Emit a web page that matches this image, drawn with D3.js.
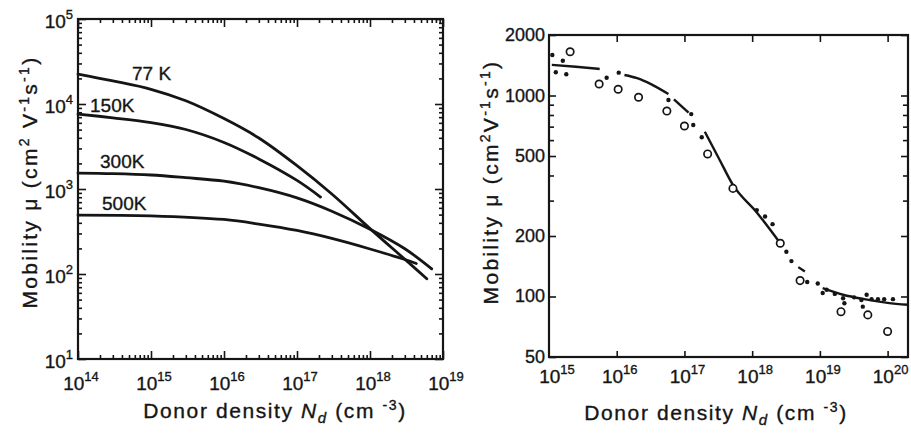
<!DOCTYPE html>
<html>
<head>
<meta charset="utf-8">
<script src="https://cdn.jsdelivr.net/npm/d3@7"></script>
<style>
  body { margin: 0; background: #fff; }
  svg text { font-family: "Liberation Sans", Arial, sans-serif; fill: #151515; stroke: #151515; stroke-width: 0.35; }
</style>
</head>
<body>
<svg id="chart" width="911" height="444"></svg>
<script>
// ---------- data: electron mobility vs donor density ----------
// left panel: one curve per lattice temperature, [Nd (cm^-3), mobility (cm^2/Vs)]
const curveLabels = ["77 K", "150K", "300K", "500K"];
const mu77K = [[1e14, 22500], [3e14, 18700], [1e15, 14900], [3e15, 10900], [1e16, 6730],
               [3e16, 3980], [1e17, 1880], [3e17, 873], [1e18, 342], [3e18, 149], [6e18, 88]];
const mu150K = [[1e14, 7620], [3e14, 6880], [1e15, 6050], [3e15, 5010], [1e16, 3530],
                [3e16, 2260], [1e17, 1262], [2.1e17, 805]];
const mu300K = [[1e14, 1540], [3e14, 1518], [1e15, 1462], [3e15, 1359], [1e16, 1236],
                [3e16, 1035], [1e17, 785], [3e17, 547], [1e18, 336], [3e18, 198], [7e18, 115]];
const mu500K = [[1e14, 494], [1e15, 484], [1e16, 438], [3e16, 387], [1e17, 325],
                [3e17, 262], [1e18, 197], [3e18, 148], [4.3e18, 133]];
const leftXExponents = [14, 15, 16, 17, 18, 19];
const leftYExponents = [1, 2, 3, 4, 5];

// right panel: 300 K data (filled / open symbols) and the fitted curve, drawn in pieces
const fitSegments = [
  [[1.1e15, 1420], [2.5e15, 1390], [5.6e15, 1355]],
  [[1.3e16, 1265], [2e16, 1220], [3.2e16, 1140], [5.8e16, 1017]],
  [[7e16, 957], [1.15e17, 821]],
  [[2e17, 660], [3.2e17, 489], [5.2e17, 359], [1.17e18, 262], [2.6e18, 184]],
  [[4.8e18, 140], [6e18, 133]],
  [[1.1e19, 110], [2.2e19, 102], [4.5e19, 97], [1e20, 93], [2e20, 91]]
];
const filledPoints = [[1.12e15, 1591], [1.6e15, 1490], [1.26e15, 1305], [1.8e15, 1275], [7.1e15, 1226],
  [1.07e16, 1299], [5.8e16, 950], [1.26e17, 808], [1.35e17, 713], [1.8e17, 620], [1.17e18, 269],
  [1.55e18, 250], [2e18, 229], [3.2e18, 167], [3.8e18, 150], [6.5e18, 118], [9.3e18, 116],
  [1.1e19, 104], [1.26e19, 108], [1.66e19, 103], [2.2e19, 98], [2.3e19, 92.6], [3.2e19, 99],
  [4.1e19, 96], [4.3e19, 89], [4.9e19, 102], [5.8e19, 97], [7.2e19, 97], [8.9e19, 97], [1.2e20, 97]];
const openPoints = [[2.05e15, 1651], [5.5e15, 1141], [1.05e16, 1074], [2.1e16, 980], [5.5e16, 837],
  [1e17, 705], [2.2e17, 512], [5.2e17, 345], [2.6e18, 184], [5.1e18, 120], [2.05e19, 84],
  [5.1e19, 81], [1e20, 67]];
const rightXExponents = [15, 16, 17, 18, 19, 20];
const rightYLabels = [50, 100, 200, 500, 1000, 2000];
const rightYMinor = [300, 400, 600, 700, 800, 900];

// ---------- layout ----------
const svg = d3.select("#chart");
const ink = "#151515";

const xL = d3.scaleLog().domain([1e14, 1e19]).range([78, 443]);
const yL = d3.scaleLog().domain([1e1, 1e5]).range([359, 19]);
const xR = d3.scaleLog().domain([1e15, 2e20]).range([549, 908]);
const yR = d3.scaleLog().domain([50, 2000]).range([357, 35]);

function isDecade(v) { return Math.abs(Math.log10(v) - Math.round(Math.log10(v))) < 1e-6; }

// inward tick marks on all four sides, drawn with d3 axes
function tickSide(g, axisFn, scale, values, size, transform) {
  g.append("g")
    .attr("transform", transform)
    .call(axisFn(scale).tickValues(values).tickSize(-size).tickFormat(""))
    .call(s => s.select(".domain").remove())
    .call(s => s.selectAll("line").attr("stroke", ink).attr("stroke-width", 1.6));
}

function frame(g, x, y) {
  const [a, b] = x.range(), [c, d] = y.range();
  g.append("rect")
    .attr("x", a).attr("y", d).attr("width", b - a).attr("height", c - d)
    .attr("fill", "none").attr("stroke", ink).attr("stroke-width", 2.2);
}

function powerLabel(sel, exp, supSize, rise) {
  sel.append("tspan").text("10");
  sel.append("tspan").attr("dy", -rise).attr("font-size", supSize).text(exp);
}

function mobilityTitle(g, tx, ty, gap) {
  const t = g.append("text").attr("text-anchor", "middle").attr("font-size", 21)
    .attr("letter-spacing", 2.3).attr("transform", `translate(${tx},${ty}) rotate(-90)`);
  t.append("tspan").text("Mobility  \u03bc  (cm");
  t.append("tspan").attr("dy", -8).attr("font-size", 14).text("2");
  t.append("tspan").attr("dy", 8).text(gap + "V");
  t.append("tspan").attr("dy", -8).attr("font-size", 14).text("-1");
  t.append("tspan").attr("dy", 8).text("s");
  t.append("tspan").attr("dy", -8).attr("font-size", 14).text("-1");
  t.append("tspan").attr("dy", 8).text(")");
}

function densityTitle(g, cx, by) {
  const t = g.append("text").attr("text-anchor", "middle").attr("font-size", 21)
    .attr("letter-spacing", 1.6).attr("x", cx).attr("y", by);
  t.append("tspan").text("Donor density  ");
  t.append("tspan").attr("font-style", "italic").text("N");
  t.append("tspan").attr("dy", 5).attr("font-size", 15).attr("font-style", "italic").text("d");
  t.append("tspan").attr("dy", -5).text(" (cm ");
  t.append("tspan").attr("dy", -8).attr("font-size", 14).text("-3");
  t.append("tspan").attr("dy", 8).text(")");
}

// ---------- left panel ----------
const gl = svg.append("g");
{
  const xt = xL.ticks(), yt = yL.ticks();
  const xMaj = xt.filter(isDecade), xMin = xt.filter(v => !isDecade(v));
  const yMaj = yt.filter(isDecade), yMin = yt.filter(v => !isDecade(v));
  tickSide(gl, d3.axisBottom, xL, xMin, 4, "translate(0,359)");
  tickSide(gl, d3.axisBottom, xL, xMaj, 8, "translate(0,359)");
  tickSide(gl, d3.axisTop, xL, xMin, 4, "translate(0,19)");
  tickSide(gl, d3.axisTop, xL, xMaj, 8, "translate(0,19)");
  tickSide(gl, d3.axisLeft, yL, yMin, 4, "translate(78,0)");
  tickSide(gl, d3.axisLeft, yL, yMaj, 8, "translate(78,0)");
  tickSide(gl, d3.axisRight, yL, yMin, 4, "translate(443,0)");
  tickSide(gl, d3.axisRight, yL, yMaj, 8, "translate(443,0)");
  frame(gl, xL, yL);

  const line = d3.line().x(d => xL(d[0])).y(d => yL(d[1])).curve(d3.curveCatmullRom.alpha(0.5));
  gl.selectAll("path.curve").data([mu77K, mu150K, mu300K, mu500K]).join("path")
    .attr("class", "curve").attr("d", line)
    .attr("fill", "none").attr("stroke", ink).attr("stroke-width", 2.8).attr("stroke-linecap", "round");

  // temperature labels, placed just above the start of each curve
  const labelPos = [[132, 80], [90, 112], [100, 168], [102, 210]];
  gl.selectAll("text.temp").data(curveLabels).join("text")
    .attr("class", "temp")
    .attr("x", (d, i) => labelPos[i][0]).attr("y", (d, i) => labelPos[i][1])
    .attr("font-size", 19).text(d => d);

  gl.selectAll("text.xlab").data(leftXExponents).join("text")
    .attr("class", "xlab").attr("text-anchor", "middle")
    .attr("x", e => xL(10 ** e) + 3).attr("y", 390).attr("font-size", 19)
    .each(function (e) { powerLabel(d3.select(this), e, 13, 9); });

  gl.selectAll("text.ylab").data(leftYExponents).join("text")
    .attr("class", "ylab").attr("text-anchor", "end")
    .attr("x", 73).attr("y", e => yL(10 ** e) + 9).attr("font-size", 19)
    .each(function (e) { powerLabel(d3.select(this), e, 13, 9); });

  mobilityTitle(gl, 37, 182, " ");
  densityTitle(gl, 275, 418);
}

// ---------- right panel ----------
const gr = svg.append("g");
{
  const xMaj = rightXExponents.slice(1).map(e => 10 ** e);
  tickSide(gr, d3.axisBottom, xR, xMaj, 6, "translate(0,357)");
  tickSide(gr, d3.axisTop, xR, xMaj, 7, "translate(0,35)");
  tickSide(gr, d3.axisLeft, yR, rightYLabels, 7, "translate(549,0)");
  tickSide(gr, d3.axisLeft, yR, rightYMinor, 5, "translate(549,0)");
  tickSide(gr, d3.axisRight, yR, rightYLabels, 7, "translate(908,0)");
  tickSide(gr, d3.axisRight, yR, rightYMinor, 5, "translate(908,0)");
  frame(gr, xR, yR);

  const line = d3.line().x(d => xR(d[0])).y(d => yR(d[1])).curve(d3.curveMonotoneX);
  gr.selectAll("path.fit").data(fitSegments).join("path")
    .attr("class", "fit").attr("d", line)
    .attr("fill", "none").attr("stroke", ink).attr("stroke-width", 2.4);

  gr.selectAll("circle.open").data(openPoints).join("circle")
    .attr("class", "open").attr("cx", d => xR(d[0])).attr("cy", d => yR(d[1])).attr("r", 3.7)
    .attr("fill", "#fff").attr("stroke", ink).attr("stroke-width", 1.7);
  gr.selectAll("circle.filled").data(filledPoints).join("circle")
    .attr("class", "filled").attr("cx", d => xR(d[0])).attr("cy", d => yR(d[1])).attr("r", 2.2)
    .attr("fill", ink);

  gr.selectAll("text.xlab").data(rightXExponents).join("text")
    .attr("class", "xlab").attr("text-anchor", "middle")
    .attr("x", e => xR(10 ** e) + (e === 15 ? 8 : 3)).attr("y", 383).attr("font-size", 19)
    .each(function (e) { powerLabel(d3.select(this), e, 13, 9); });

  gr.selectAll("text.ylab").data(rightYLabels).join("text")
    .attr("class", "ylab").attr("text-anchor", "end")
    .attr("x", 545).attr("y", v => yR(v) + 6).attr("font-size", 18).text(v => v);

  mobilityTitle(gr, 498, 182, "");
  densityTitle(gr, 716, 420);
}
</script>
</body>
</html>
